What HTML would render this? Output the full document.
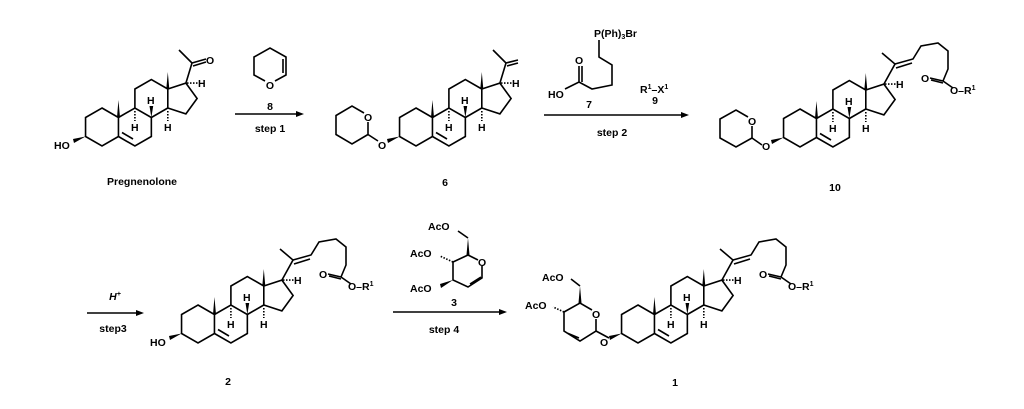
<!DOCTYPE html>
<html><head><meta charset="utf-8"><style>
html,body{margin:0;padding:0;background:#fff;}
svg{display:block;}
text{font-family:"Liberation Sans",sans-serif;font-weight:bold;font-size:10.5px;fill:#000;}
</style></head><body>
<svg width="1024" height="409" viewBox="0 0 1024 409" xmlns="http://www.w3.org/2000/svg">
<defs>
<g id="sk" fill="none" stroke="#000" stroke-width="1.6">
<path d="M0,-19 L16.45,-9.5 L16.45,9.5 L0,19 L-16.45,9.5 L-16.45,-9.5 Z"/>
<path d="M16.45,-9.5 L32.9,-19 L49.35,-9.5 L49.35,9.5 L32.9,19 L16.45,9.5"/>
<path d="M32.9,-19 L32.9,-38 L49.35,-47.5 L65.8,-38 L65.8,-19 L49.35,-9.5"/>
<path d="M65.8,-38 L83.9,-43.9 L95.1,-28.5 L83.9,-13.1 L65.8,-19"/>
<path d="M20,5.5 L31,12"/>
<polygon points="15,-9.5 18,-9.5 16.45,-27" fill="#000" stroke="none"/>
<polygon points="64.3,-38 67.3,-38 65.8,-55" fill="#000" stroke="none"/>
<polygon points="-16.45,9.5 -29,12 -28,16" fill="#000" stroke="none"/>
<path d="M32.9,-16 V-6" stroke-dasharray="1.5,1.5"/>
<path d="M65.8,-16 V-6" stroke-dasharray="1.5,1.5"/>
<polygon points="49.35,-9.5 47.5,-21 51.2,-21" fill="#000" stroke="none"/>
<path d="M85,-43.9 H96" stroke-dasharray="1.5,1.5"/>
</g>
<g id="sc" fill="none" stroke="#000" stroke-width="1.6">
<path d="M83.9,-43.9 L95,-64 L82,-75"/>
<path d="M95,-64 L113,-69 L121,-82 L138,-85 L148,-77 L148,-59 L143,-47"/>
<path d="M96,-60 L112,-65"/>
<path d="M143,-47 L130,-50 M143,-45 L131,-48"/>
<path d="M143,-47 L153,-40"/>
</g>
</defs>

<!-- Pregnenolone -->
<g transform="translate(102,127)">
<use href="#sk"/>
<path d="M83.9,-43.9 L90,-64 L77,-77 M90,-64 L104,-68 M91,-61 L104,-65" fill="none" stroke="#000" stroke-width="1.6"/>
<text x="104" y="-63">O</text>
<text x="-48" y="22">HO</text>
<text x="29" y="4">H</text>
<text x="45" y="-23">H</text>
<text x="62" y="4">H</text>
<text x="96" y="-40">H</text>
</g>
<text x="142" y="185" text-anchor="middle">Pregnenolone</text>

<!-- reagent 8 -->
<path d="M265,81 L254,75 L254,57 L270,48 L286,57 L286,75 L275,81 M283,59 L283,73" fill="none" stroke="#000" stroke-width="1.6"/>
<text x="270" y="89" text-anchor="middle">O</text>
<text x="270" y="110" text-anchor="middle">8</text>
<path d="M235,114 H300" stroke="#000" stroke-width="1.4"/><polygon points="304,114 296,111 296,117"/>
<text x="270" y="132" text-anchor="middle">step 1</text>

<!-- compound 6 -->
<path d="M364,113 L352,106 L336,115.5 L336,134.5 L352,144 L368,134.5 L368,122 M368,134.5 L378,141" fill="none" stroke="#000" stroke-width="1.6"/>
<text x="364" y="121">O</text>
<g transform="translate(416,127)">
<use href="#sk"/>
<path d="M83.9,-43.9 L90,-64 L77,-77 M90,-64 L102,-67 M91,-61 L102,-64" fill="none" stroke="#000" stroke-width="1.6"/>
<text x="-38" y="22">O</text>
<text x="29" y="4">H</text>
<text x="45" y="-23">H</text>
<text x="62" y="4">H</text>
<text x="96" y="-40">H</text>
</g>
<text x="445" y="186" text-anchor="middle">6</text>

<!-- step 2 reagents -->
<text x="594" y="37">P(Ph)<tspan font-size="7" dy="2">3</tspan><tspan dy="-2">Br</tspan></text>
<path d="M599,40 L599,57 L612,65 L612,85 L592,89 L579,82 L565,89 M579,82 L579,66 M582,82 L582,66" fill="none" stroke="#000" stroke-width="1.6"/>
<text x="575" y="64">O</text>
<text x="548" y="98">HO</text>
<text x="589" y="108" text-anchor="middle">7</text>
<text x="640" y="93">R<tspan font-size="7" dy="-4">1</tspan><tspan dy="4">–X</tspan><tspan font-size="7" dy="-4">1</tspan></text>
<text x="655" y="104" text-anchor="middle">9</text>
<path d="M544,115 H684" stroke="#000" stroke-width="1.4"/><polygon points="689,115 681,112 681,118"/>
<text x="612" y="136" text-anchor="middle">step 2</text>

<!-- compound 10 -->
<path d="M748,117 L736,110 L720,119 L720,138 L736,147 L752,138 L752,126 M752,138 L762,145" fill="none" stroke="#000" stroke-width="1.6"/>
<text x="748" y="125">O</text>
<g transform="translate(800,128)">
<use href="#sk"/><use href="#sc"/>
<text x="-38" y="22">O</text>
<text x="29" y="4">H</text>
<text x="45" y="-23">H</text>
<text x="62" y="4">H</text>
<text x="96" y="-40">H</text>
<text x="121" y="-46">O</text>
<text x="150" y="-34">O–R<tspan font-size="7" dy="-4">1</tspan></text>
</g>
<text x="835" y="191" text-anchor="middle">10</text>

<!-- step 3 -->
<text x="115" y="300" text-anchor="middle" font-style="italic">H<tspan font-size="7" dy="-4">+</tspan></text>
<path d="M87,313 H139" stroke="#000" stroke-width="1.4"/><polygon points="144,313 136,310 136,316"/>
<text x="113" y="332" text-anchor="middle">step3</text>

<!-- compound 2 -->
<g transform="translate(198,324)">
<use href="#sk"/><use href="#sc"/>
<text x="-48" y="22">HO</text>
<text x="29" y="4">H</text>
<text x="45" y="-23">H</text>
<text x="62" y="4">H</text>
<text x="96" y="-40">H</text>
<text x="121" y="-46">O</text>
<text x="150" y="-34">O–R<tspan font-size="7" dy="-4">1</tspan></text>
</g>
<text x="228" y="385" text-anchor="middle">2</text>

<!-- reagent 3 -->
<path d="M468,255 L478,260 M482,266 L482,278 L468,287 L453,280 L453,262 L468,255 M470,284 L481,277" fill="none" stroke="#000" stroke-width="1.6"/>
<polygon points="466.5,255 469.5,255 468,238" />
<path d="M468,238 L458,231" fill="none" stroke="#000" stroke-width="1.6"/>
<path d="M453,262 L440,256" fill="none" stroke="#000" stroke-width="1.6" stroke-dasharray="1.5,1.5"/>
<polygon points="453,280 440,284 441,288"/>
<text x="478" y="266">O</text>
<text x="428" y="230">AcO</text>
<text x="410" y="257">AcO</text>
<text x="410" y="292">AcO</text>
<text x="454" y="306" text-anchor="middle">3</text>
<path d="M393,312 H502" stroke="#000" stroke-width="1.4"/><polygon points="507,312 499,309 499,315"/>
<text x="444" y="333" text-anchor="middle">step 4</text>

<!-- compound 1 -->
<path d="M592,310 L580,303 L564,312 L564,331 L580,341 L596,331 L596,319 M567,333 L579,338 M596,331 L609,338" fill="none" stroke="#000" stroke-width="1.6"/>
<polygon points="578.5,303 581.5,303 580,286"/>
<path d="M580,286 L571,279" fill="none" stroke="#000" stroke-width="1.6"/>
<path d="M564,312 L553,307" fill="none" stroke="#000" stroke-width="1.6" stroke-dasharray="1.5,1.5"/>
<text x="592" y="318">O</text>
<text x="542" y="281">AcO</text>
<text x="525" y="309">AcO</text>
<g transform="translate(638,324)">
<use href="#sk"/><use href="#sc"/>
<text x="-38" y="22">O</text>
<text x="29" y="4">H</text>
<text x="45" y="-23">H</text>
<text x="62" y="4">H</text>
<text x="96" y="-40">H</text>
<text x="121" y="-46">O</text>
<text x="150" y="-34">O–R<tspan font-size="7" dy="-4">1</tspan></text>
</g>
<text x="675" y="386" text-anchor="middle">1</text>
</svg>
</body></html>
